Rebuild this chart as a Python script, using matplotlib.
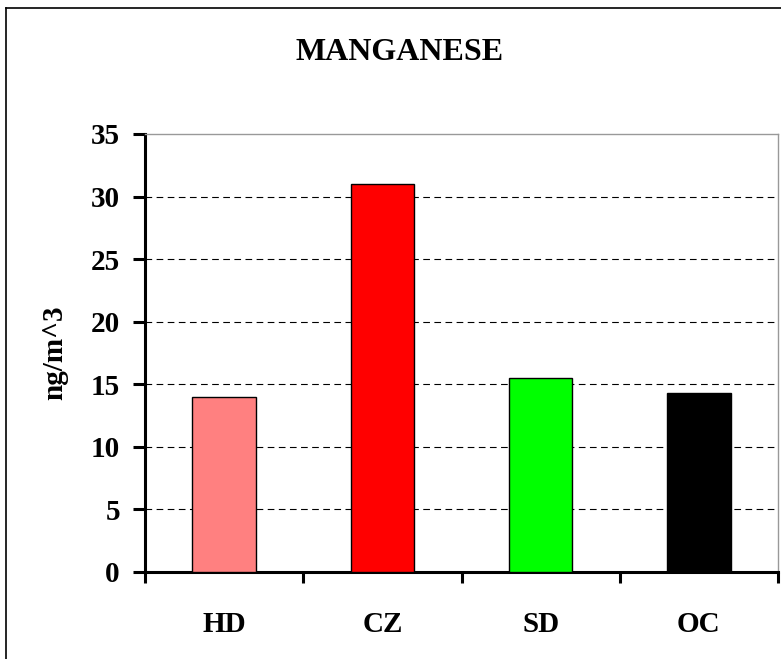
import matplotlib
matplotlib.use('Agg')
import matplotlib.pyplot as plt
from matplotlib.lines import Line2D

sites = ['HD', 'CZ', 'SD', 'OC']
manganese = [14.0, 31.0, 15.5, 14.3]
bar_colors = ['#FF8080', '#FF0000', '#00FF00', '#000000']
yticks = [0, 5, 10, 15, 20, 25, 30, 35]

plt.rcParams['font.family'] = ['Liberation Serif', 'DejaVu Serif']
plt.rcParams['font.weight'] = 'bold'
FS = 21

fig = plt.figure(figsize=(7.81, 6.59), dpi=100)
fig.patch.set_facecolor('#FFFFFF')

# outer chart border (left and top visible, rest falls off the picture)
W, H = 781.0, 659.0
fig.add_artist(Line2D([6 / W, 6 / W], [0, 1 - 8 / H], color='black', lw=1.2))
fig.add_artist(Line2D([6 / W, 1], [1 - 8 / H, 1 - 8 / H], color='black', lw=1.2))

ax = fig.add_axes([145 / W, 1 - 572 / H, (778 - 145) / W, (572 - 134) / H])
x = list(range(len(sites)))
ax.bar(x, manganese, width=0.4, color=bar_colors, edgecolor='black', linewidth=1.0, zorder=3)

ax.set_xlim(-0.5, len(sites) - 0.5)
ax.set_ylim(0, 35)
ax.set_yticks(yticks)
ax.set_yticklabels([str(v) for v in yticks], fontsize=FS, fontweight='bold')
ax.set_xticks([i + 0.5 for i in range(-1, len(sites))])
ax.set_xticklabels([])
ax.set_xticks(x, minor=True)
ax.set_xticklabels(sites, minor=True, fontsize=FS, fontweight='bold')
ax.tick_params(axis='x', which='minor', length=0, pad=28)
ax.tick_params(axis='x', which='major', direction='out', length=8, width=2.2)
ax.tick_params(axis='y', direction='out', length=9, width=2.2, pad=9)

for v in yticks[1:-1]:
    ax.axhline(v, color='black', lw=0.8, ls=(0, (6, 4)), zorder=1)

ax.spines['left'].set_linewidth(2.2)
ax.spines['bottom'].set_linewidth(2.2)
ax.spines['top'].set_color('#999999')
ax.spines['right'].set_color('#999999')
ax.spines['top'].set_linewidth(1.0)
ax.spines['right'].set_linewidth(1.0)

ax.set_ylabel('ng/m^3', fontsize=FS, fontweight='bold', labelpad=16)
fig.text(400 / W, 1 - 52 / H, 'MANGANESE', ha='center', va='center',
         fontsize=23, fontweight='bold')

fig.savefig('out.png', dpi=100)
